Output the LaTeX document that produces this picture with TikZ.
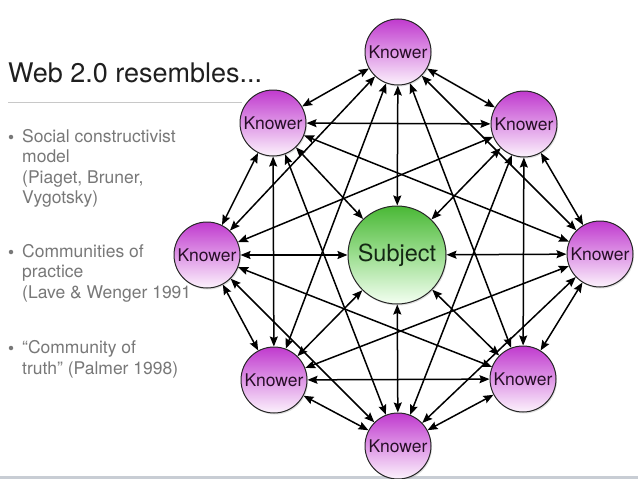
\documentclass[tikz,border=0pt]{standalone}
\usepackage{fontspec}
\setmainfont{TeX Gyre Heros}
\usetikzlibrary{arrows.meta,shadows}
\definecolor{knowtop}{RGB}{192,58,206}
\definecolor{knowmid}{RGB}{222,150,230}
\definecolor{knowbot}{RGB}{252,242,252}
\definecolor{subtop}{RGB}{74,184,54}
\definecolor{submid}{RGB}{156,222,144}
\definecolor{subbot}{RGB}{244,255,242}
\definecolor{bullgray}{RGB}{120,120,120}
\definecolor{rulegray}{RGB}{200,200,200}
\definecolor{stripgray}{RGB}{200,205,212}
\definecolor{knowtext}{RGB}{40,15,40}
\definecolor{subtext}{RGB}{20,40,20}
\tikzset{
  knower/.style={circle, draw=black!85, line width=1pt, minimum size=66pt, inner sep=0pt,
    top color=knowtop, bottom color=knowbot, middle color=knowmid,
    drop shadow={opacity=0.25, shadow xshift=1pt, shadow yshift=-1.5pt},
    font=\fontsize{17.5}{17.5}\selectfont, text=knowtext},
  subjectnode/.style={circle, draw=black!85, line width=1pt, minimum size=98pt, inner sep=0pt,
    top color=subtop, bottom color=subbot, middle color=submid,
    drop shadow={opacity=0.25, shadow xshift=1pt, shadow yshift=-1.5pt},
    font=\fontsize{23.5}{23.5}\selectfont, text=subtext},
  conn/.style={{Stealth[length=10pt,width=8pt,inset=1.5pt]}-{Stealth[length=10pt,width=8pt,inset=1.5pt]}, line width=1.5pt, black},
  bline/.style={anchor=base west, inner sep=0pt, text=bullgray, font=\fontsize{17.5}{20}\selectfont},
  bdot/.style={circle, fill=bullgray, inner sep=0pt, minimum size=4.5pt}
}
\begin{document}
\begin{tikzpicture}[x=1pt,y=-1pt]
\useasboundingbox (0,0) rectangle (638,479);
\fill[white] (0,0) rectangle (638,479);
\fill[stripgray] (0,476) rectangle (638,479);

% title
\node[anchor=base west, inner sep=0pt, font=\fontsize{27}{27}\selectfont, text=black!88] (title) at (8,82) {Web 2.0 resembles...};
\draw[rulegray, line width=0.8pt] (8,102) -- (242,102);

% bullets
\node[bdot] (d1) at (11,137) {};
\node[bline] (b11) at (22,142) {Social constructivist};
\node[bline] (b12) at (22,162.5) {model};
\node[bline] (b13) at (22,183) {(Piaget, Bruner,};
\node[bline] (b14) at (22,203.5) {Vygotsky)};
\node[bdot] (d2) at (11,252) {};
\node[bline] (b21) at (22,257) {Communities of};
\node[bline] (b22) at (22,277.5) {practice};
\node[bline] (b23) at (22,298) {(Lave \& Wenger 1991};
\node[bdot] (d3) at (11,348) {};
\node[bline] (b31) at (22,353) {“Community of};
\node[bline] (b32) at (22,374) {truth” (Palmer 1998)};

% nodes
\node[knower] (T)  at (398,52)  {Knower};
\node[knower] (UL) at (273,123) {Knower};
\node[knower] (UR) at (524,124) {Knower};
\node[knower] (L)  at (207,255) {Knower};
\node[knower] (R)  at (600,254) {Knower};
\node[knower] (LL) at (274,380) {Knower};
\node[knower] (LR) at (523,379) {Knower};
\node[knower] (B)  at (398,446) {Knower};
\node[subjectnode] (S) at (397,255) {Subject};

% connectors
\foreach \a/\b in {T/UL,T/UR,T/L,T/R,T/LL,T/LR,
                   UL/UR,UL/L,UL/R,UL/LL,UL/B,
                   UR/L,UR/R,UR/LR,UR/B,
                   L/LL,L/LR,L/B,
                   R/LL,R/LR,R/B,
                   LL/LR,LL/B,
                   LR/B,
                   S/T,S/UL,S/UR,S/L,S/R,S/LL,S/LR,S/B}
  \draw[conn] (\a) -- (\b);
\end{tikzpicture}
\end{document}
